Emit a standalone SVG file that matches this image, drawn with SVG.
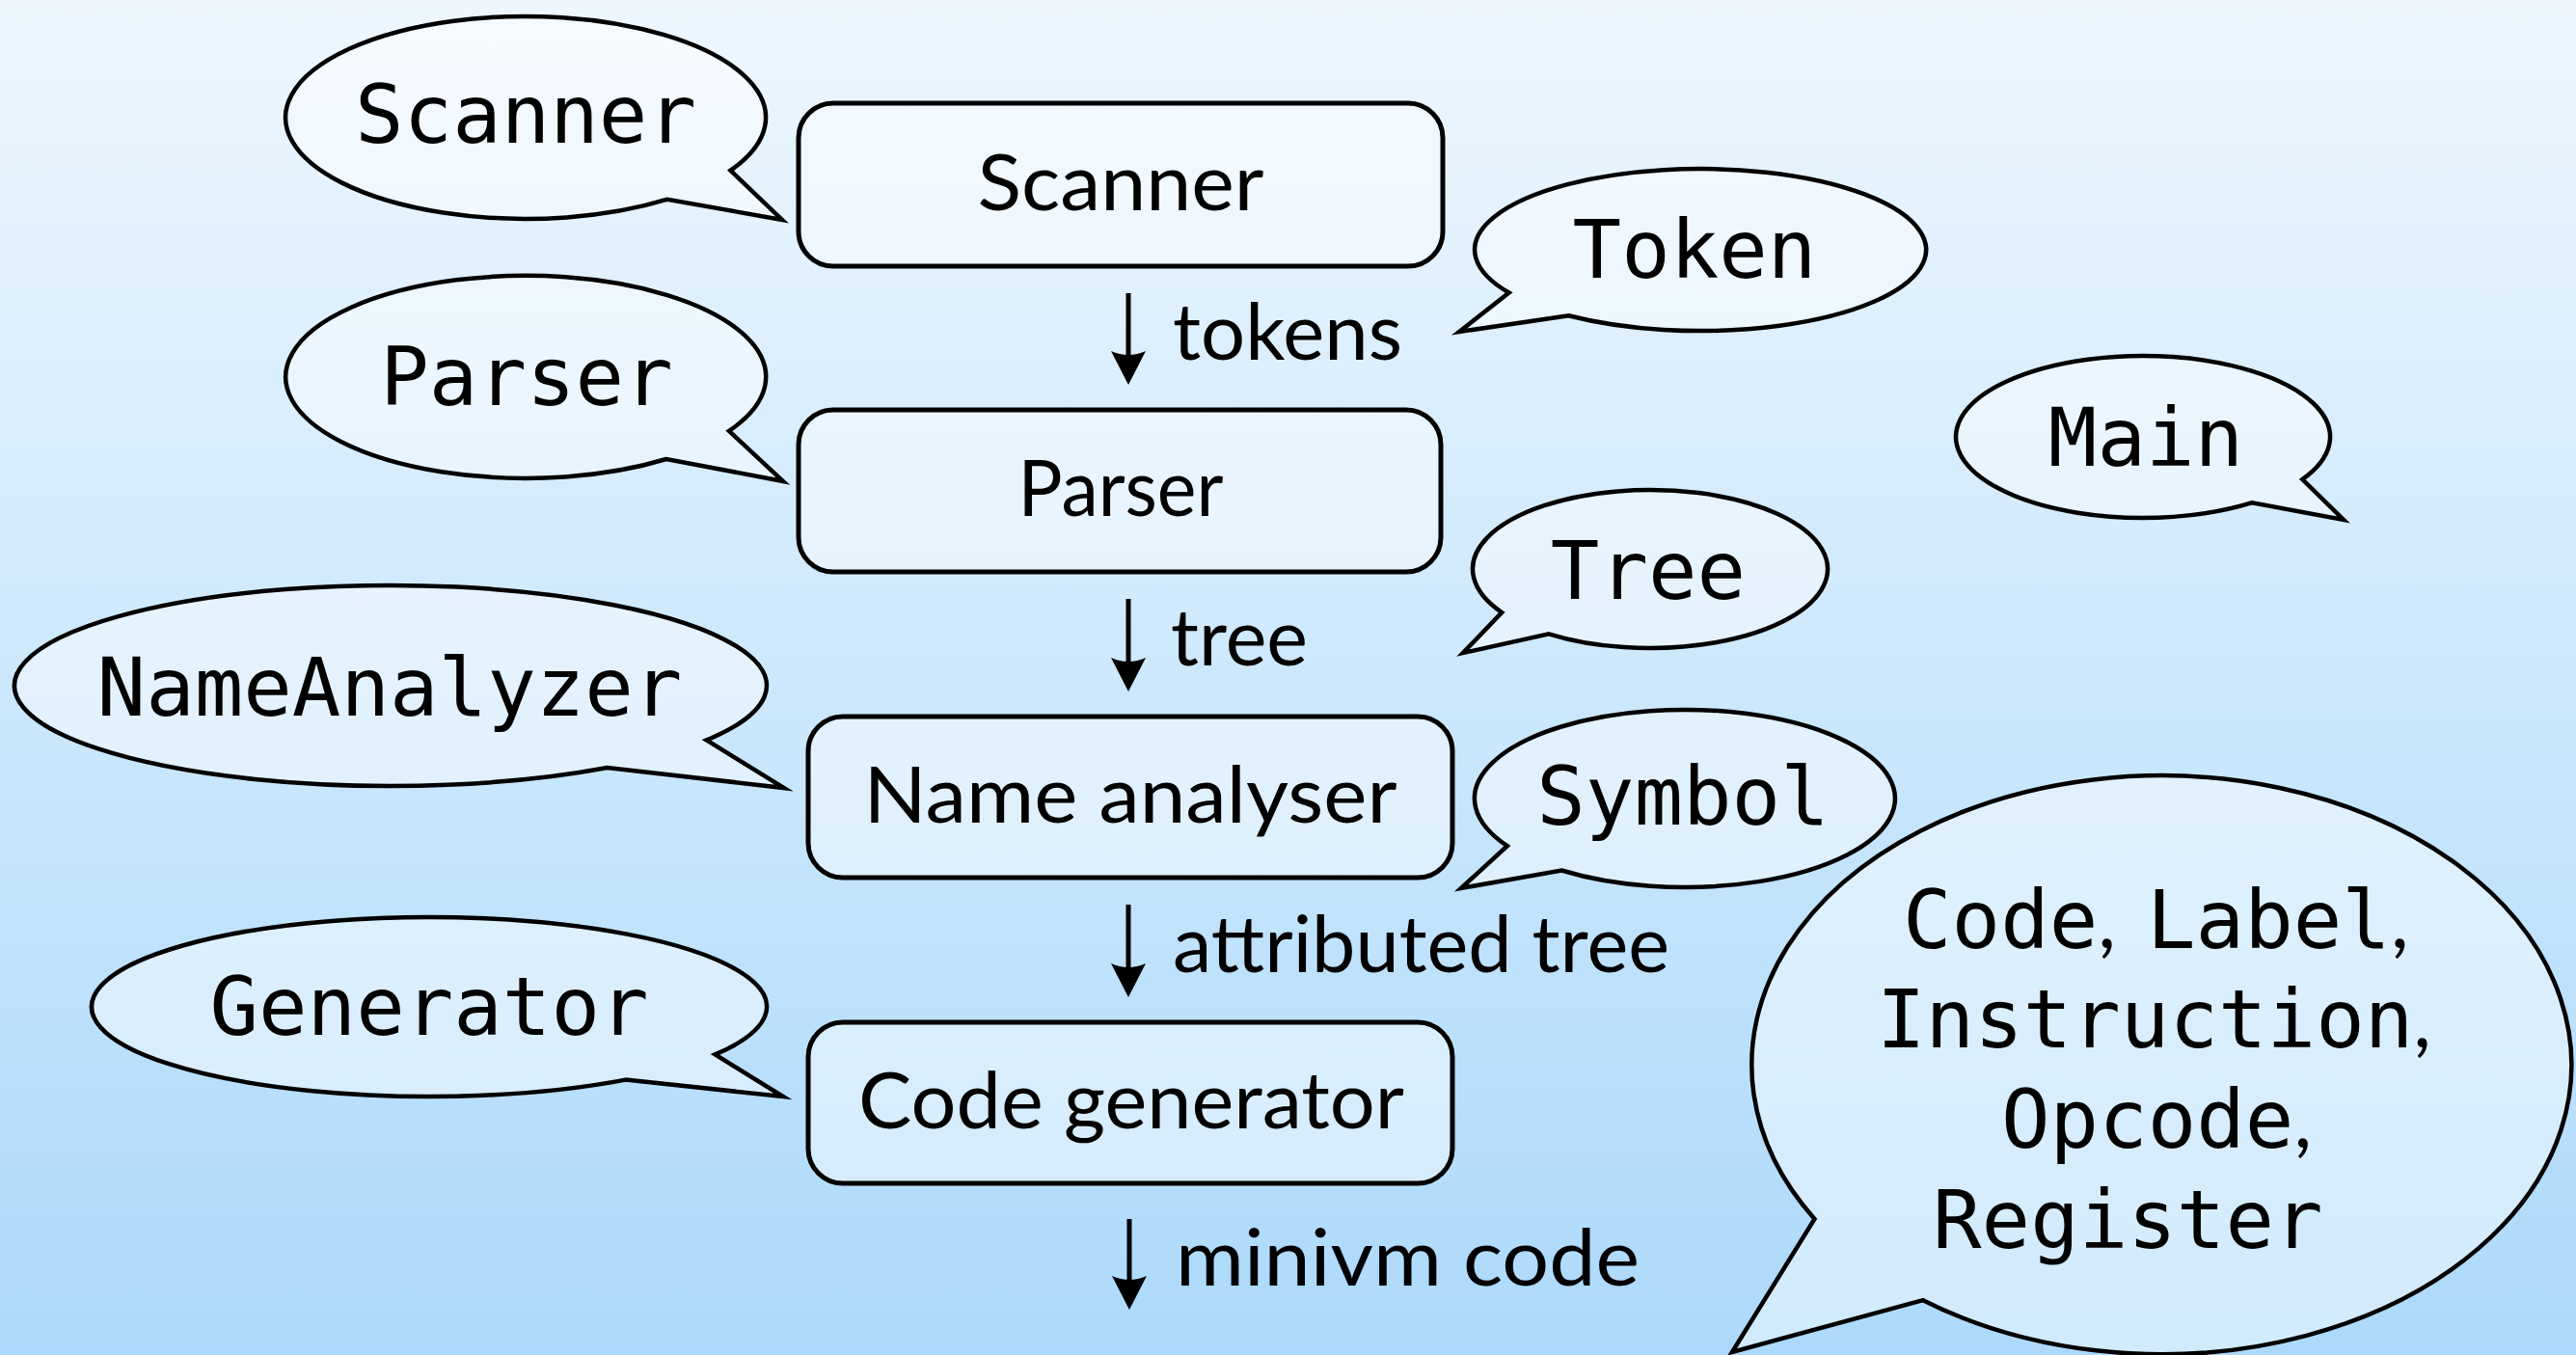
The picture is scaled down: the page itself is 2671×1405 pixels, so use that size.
<svg xmlns="http://www.w3.org/2000/svg" xmlns:xlink="http://www.w3.org/1999/xlink" width="2671" height="1405" viewBox="0 0 2671 1405">
  <defs>
    <linearGradient id="sky" x1="0" y1="0" x2="0" y2="1">
      <stop offset="0" stop-color="#eef7fe"/>
      <stop offset="1" stop-color="#acd9fb"/>
    </linearGradient>
    <!-- arrowhead, tip at the origin -->
    <path id="head" d="M0,0 L-18,-35 Q0,-27 18,-35 Z" fill="#000"/>
    <style>
      .box { fill: rgba(255,255,255,0.45); stroke: #000; stroke-width: 5; }
      .bubble { fill: rgba(255,255,255,0.45); stroke: #000; stroke-width: 4.5; stroke-linejoin: miter; stroke-miterlimit: 12; }
      .mono { font-family: "DejaVu Sans Mono", "Liberation Mono", monospace; font-size: 84px; fill: #000; }
      .sans { font-family: Lato, "Open Sans", "Liberation Sans", sans-serif; font-size: 82px; fill: #000; }
      .shaft { stroke: #000; stroke-width: 5; fill: none; }
    </style>
  </defs>

  <rect x="0" y="0" width="2671" height="1405" fill="url(#sky)"/>

  <!-- pipeline stages -->
  <g id="scanner">
    <rect class="box" x="828" y="107" width="668" height="169" rx="36"/>
    <text class="sans" x="1162" y="218" text-anchor="middle" textLength="297" lengthAdjust="spacingAndGlyphs">Scanner</text>
  </g>
  <g id="parser">
    <rect class="box" x="828" y="425" width="666" height="168" rx="36"/>
    <text class="sans" x="1162" y="535" text-anchor="middle" textLength="213" lengthAdjust="spacingAndGlyphs">Parser</text>
  </g>
  <g id="name-analyser">
    <rect class="box" x="838" y="743" width="668" height="167" rx="36"/>
    <text class="sans" x="1172" y="853" text-anchor="middle" textLength="553" lengthAdjust="spacingAndGlyphs">Name analyser</text>
  </g>
  <g id="code-generator">
    <rect class="box" x="838" y="1060" width="668" height="167" rx="36"/>
    <text class="sans" x="1173" y="1170" text-anchor="middle" textLength="566" lengthAdjust="spacingAndGlyphs">Code generator</text>
  </g>

  <!-- data flowing between stages -->
  <g id="connectors">
    <line class="shaft" x1="1170" y1="304" x2="1170" y2="380"/>
    <use xlink:href="#head" x="1170" y="399"/>
    <text class="sans" x="1216" y="373" textLength="238" lengthAdjust="spacingAndGlyphs">tokens</text>

    <line class="shaft" x1="1170" y1="621" x2="1170" y2="698"/>
    <use xlink:href="#head" x="1170" y="717"/>
    <text class="sans" x="1214" y="690" textLength="142" lengthAdjust="spacingAndGlyphs">tree</text>

    <line class="shaft" x1="1170" y1="938" x2="1170" y2="1015"/>
    <use xlink:href="#head" x="1170" y="1034"/>
    <text class="sans" x="1216" y="1008" textLength="515" lengthAdjust="spacingAndGlyphs">attributed tree</text>

    <line class="shaft" x1="1171" y1="1264" x2="1171" y2="1339"/>
    <use xlink:href="#head" x="1171" y="1358"/>
    <text class="sans" x="1219" y="1333" textLength="481" lengthAdjust="spacingAndGlyphs">minivm code</text>
  </g>

  <!-- class names, as speech bubbles -->
  <g id="bubble-scanner">
    <path class="bubble" d="M692,206.7 A249,105 0 1 1 757.5,176.7 L811,228 Z"/>
    <text class="mono" x="545" y="148" text-anchor="middle">Scanner</text>
  </g>
  <g id="bubble-parser">
    <path class="bubble" d="M690.9,476 A249,105 0 1 1 755.9,446.8 L812,499 Z"/>
    <text class="mono" x="546" y="420" text-anchor="middle">Parser</text>
  </g>
  <g id="bubble-nameanalyzer">
    <path class="bubble" d="M629.6,796 A390,104 0 1 1 732.6,767.4 L813,817 Z"/>
    <text class="mono" x="404" y="742" text-anchor="middle">NameAnalyzer</text>
  </g>
  <g id="bubble-generator">
    <path class="bubble" d="M648.7,1119.6 A350,93 0 1 1 741.5,1093.4 L812,1137 Z"/>
    <text class="mono" x="445" y="1073" text-anchor="middle">Generator</text>
  </g>
  <g id="bubble-token">
    <path class="bubble" d="M1626.4,327.2 A234,84 0 1 0 1564.6,303.5 L1513,344 Z"/>
    <text class="mono" x="1757" y="288" text-anchor="middle">Token</text>
  </g>
  <g id="bubble-tree">
    <path class="bubble" d="M1605.9,657.3 A184,82 0 1 0 1557.2,635 L1517,677 Z"/>
    <text class="mono" x="1709" y="621" text-anchor="middle">Tree</text>
  </g>
  <g id="bubble-symbol">
    <path class="bubble" d="M1619.2,902.5 A218,92 0 1 0 1562.8,877.2 L1515,921 Z"/>
    <text class="mono" x="1745" y="855" text-anchor="middle">Symbol</text>
  </g>
  <g id="bubble-main">
    <path class="bubble" d="M2335.3,521.2 A194,84 0 1 1 2387.3,497 L2430,539 Z"/>
    <text class="mono" x="2225" y="483" text-anchor="middle">Main</text>
  </g>
  <g id="bubble-codegen-classes">
    <path class="bubble" d="M1994,1348.2 A425,300 0 1 0 1881.5,1263.9 L1796,1402 Z"/>
    <text y="983"><tspan class="mono" x="1973">Code</tspan><tspan class="sans">,</tspan><tspan class="mono" x="2226">Label</tspan><tspan class="sans">,</tspan></text>
    <text y="1086"><tspan class="mono" x="1946">Instruction</tspan><tspan class="sans">,</tspan></text>
    <text y="1190"><tspan class="mono" x="2075">Opcode</tspan><tspan class="sans">,</tspan></text>
    <text y="1294"><tspan class="mono" x="2004">Register</tspan></text>
  </g>
</svg>
